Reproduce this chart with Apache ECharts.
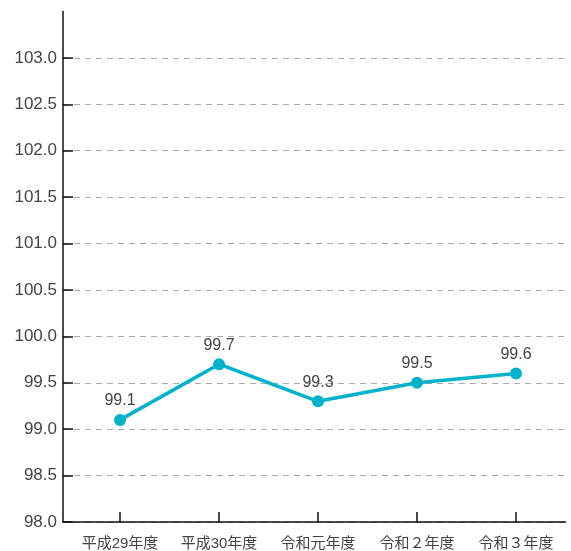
<!DOCTYPE html>
<html><head><meta charset="utf-8">
<script src="https://cdn.jsdelivr.net/npm/echarts@6/dist/echarts.min.js"></script>
<style>html,body{margin:0;padding:0;background:#fff}#c{width:571px;height:551px}</style>
</head><body><div id="c"></div>
<script>
const categories = ['平成29年度', '平成30年度', '令和元年度', '令和２年度', '令和３年度'];
const values = [99.1, 99.7, 99.3, 99.5, 99.6];
const yTicks = [98.0, 98.5, 99.0, 99.5, 100.0, 100.5, 101.0, 101.5, 102.0, 102.5, 103.0];
const xPositions = [0, 1, 2, 3, 4];

const chart = echarts.init(document.getElementById('c'));
const font = '"Liberation Sans", "Noto Sans CJK JP", sans-serif';
chart.setOption({
  animation: false,
  grid: { left: 63, right: 5.5, top: 11.5, bottom: 28, containLabel: false },
  xAxis: {
    type: 'value', min: -0.576, max: 4.5,
    axisLine: { show: true, onZero: false, lineStyle: { color: '#111', width: 1.5 } },
    axisTick: { show: true, inside: true, length: 10, customValues: xPositions, lineStyle: { color: '#111', width: 1.5 } },
    axisLabel: { show: true, customValues: xPositions, formatter: v => categories[Math.round(v)], color: '#444', fontSize: 15, fontFamily: font, margin: 14 },
    splitLine: { show: false }
  },
  yAxis: {
    type: 'value', min: 98, max: 103.5, interval: 0.5,
    axisLine: { show: true, onZero: false, lineStyle: { color: '#111', width: 1.5 } },
    axisTick: { show: true, inside: true, length: 10, customValues: yTicks, lineStyle: { color: '#111', width: 1.5 } },
    axisLabel: { customValues: yTicks, formatter: v => v.toFixed(1), color: '#444', fontSize: 17, fontFamily: font, margin: 6 },
    splitLine: { show: true, lineStyle: { color: '#aaa', type: [6, 5], width: 1 } }
  },
  series: [{
    type: 'line',
    data: values.map((v, i) => [xPositions[i], v]),
    lineStyle: { color: '#00b2ca', width: 3.5 },
    itemStyle: { color: '#00b2ca' },
    symbol: 'circle', symbolSize: 12,
    label: { show: true, position: 'top', distance: 5, color: '#444', fontSize: 16, fontFamily: font, formatter: p => p.value[1].toFixed(1) }
  }]
});
</script></body></html>
